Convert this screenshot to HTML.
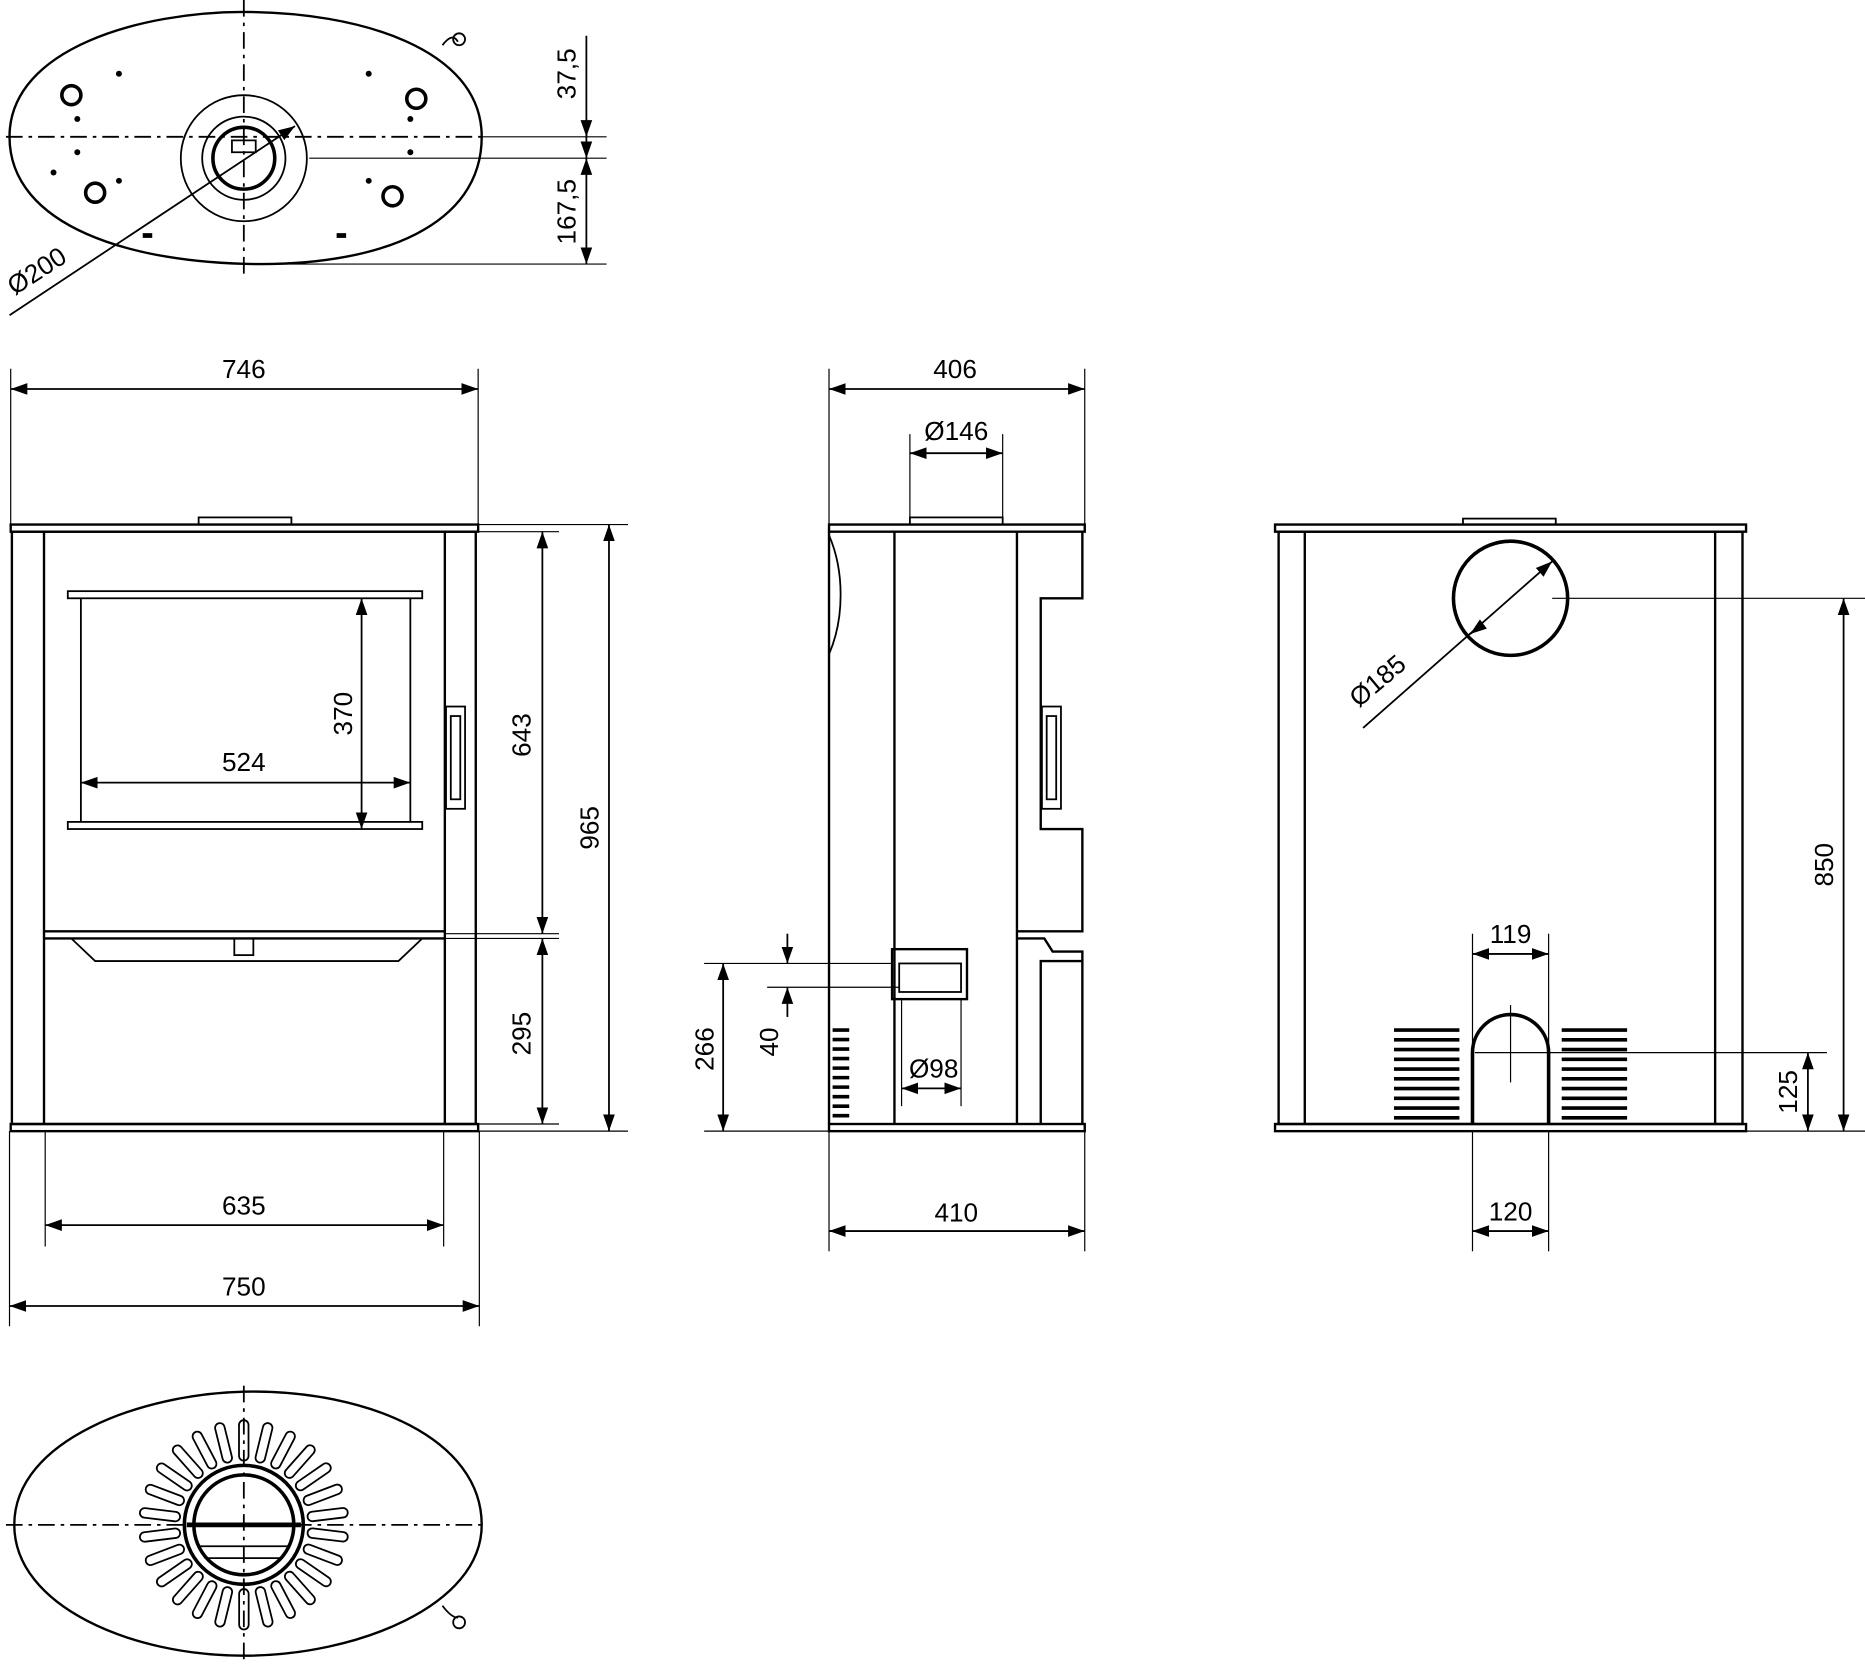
<!DOCTYPE html>
<html><head><meta charset="utf-8"><style>
html,body{margin:0;padding:0;background:#fff}
svg{display:block}
text{font-family:"Liberation Sans",sans-serif;font-size:22px;fill:#000}
</style></head><body>
<svg id="s" width="1865" height="1667" viewBox="0 0 1568 1401.5" xmlns="http://www.w3.org/2000/svg">
<defs>
<marker id="a" viewBox="0 0 10 10" refX="10" refY="5" markerWidth="14" markerHeight="14" markerUnits="userSpaceOnUse" orient="auto-start-reverse"><path d="M0,1.5 L10,5 L0,8.5Z" fill="#000"/></marker>
</defs>
<g fill="none" stroke="#000" stroke-width="1.5">
<!-- TOP VIEW -->
<path d="M8,115 C8,40 120,10 205,10 C300,10 405,40 405,115 C405,190 320,222 220,222 C110,222 8,190 8,115 Z" stroke-width="2"/>
<path d="M372,38 C378,30 382,30 385,35" />
<circle cx="386" cy="33" r="5"/>
<circle cx="205" cy="133" r="53"/>
<circle cx="205" cy="133" r="35"/>
<circle cx="205" cy="133" r="26" stroke-width="3"/>
<path d="M195,118 L215,118 L215,128 L195,128Z"/>
<g stroke-dasharray="14,5,3,5">
<line x1="5" y1="115" x2="405" y2="115"/>
<line x1="205" y1="0" x2="205" y2="230"/>
</g>
<line x1="405" y1="115" x2="510" y2="115" stroke-width="1"/>
<line x1="260" y1="133" x2="510" y2="133" stroke-width="1"/>
<line x1="230" y1="222" x2="510" y2="222" stroke-width="1"/>
<line x1="493" y1="30" x2="493" y2="115" marker-end="url(#a)"/>
<line x1="493" y1="133" x2="493" y2="222" marker-start="url(#a)" marker-end="url(#a)"/>
<line x1="493" y1="100" x2="493" y2="133" marker-end="url(#a)"/>
<line x1="8" y1="265" x2="248" y2="106" marker-end="url(#a)"/>
<g stroke-width="3">
<circle cx="60" cy="80" r="8"/><circle cx="350" cy="83" r="8"/>
<circle cx="80" cy="162" r="8"/><circle cx="330" cy="165" r="8"/>
</g>
<g fill="#000" stroke="none">
<circle cx="100" cy="62" r="2.5"/><circle cx="310" cy="62" r="2.5"/>
<circle cx="65" cy="100" r="2.5"/><circle cx="345" cy="100" r="2.5"/>
<circle cx="65" cy="128" r="2.5"/><circle cx="345" cy="128" r="2.5"/>
<circle cx="45" cy="145" r="2.5"/><circle cx="100" cy="152" r="2.5"/><circle cx="310" cy="152" r="2.5"/>
<rect x="120" y="196" width="8" height="4"/><rect x="283" y="196" width="8" height="4"/>
</g>
<!-- FRONT VIEW -->
<rect x="9" y="441" width="393" height="6" stroke-width="2"/>
<rect x="167" y="435" width="78" height="6"/>
<rect x="10" y="447" width="390" height="498" stroke-width="2"/>
<line x1="37" y1="447" x2="37" y2="945" stroke-width="2"/>
<line x1="374" y1="447" x2="374" y2="945" stroke-width="2"/>
<rect x="57" y="497" width="298" height="6"/>
<rect x="57" y="691" width="298" height="6"/>
<line x1="68" y1="503" x2="68" y2="691"/><line x1="345" y1="503" x2="345" y2="691"/>
<line x1="37" y1="783" x2="374" y2="783" stroke-width="2"/>
<line x1="37" y1="789" x2="374" y2="789" stroke-width="2"/>
<path d="M60,789 L80,808 L335,808 L355,789"/>
<rect x="197" y="789" width="16" height="14"/>
<rect x="375" y="594" width="16" height="86"/>
<rect x="379" y="602" width="8" height="70"/>
<rect x="9" y="945" width="393" height="6" stroke-width="2"/>
<g stroke-width="1">
<line x1="9" y1="310" x2="9" y2="441"/><line x1="402" y1="310" x2="402" y2="441"/>
<line x1="402" y1="441" x2="528" y2="441"/><line x1="402" y1="447" x2="470" y2="447"/>
<line x1="374" y1="785" x2="470" y2="785"/><line x1="374" y1="789" x2="470" y2="789"/>
<line x1="402" y1="945" x2="470" y2="945"/><line x1="402" y1="951" x2="528" y2="951"/>
<line x1="38" y1="951" x2="38" y2="1048"/><line x1="373" y1="951" x2="373" y2="1048"/>
<line x1="8" y1="951" x2="8" y2="1115"/><line x1="403" y1="951" x2="403" y2="1115"/>
</g>
<line x1="9" y1="327" x2="402" y2="327" marker-start="url(#a)" marker-end="url(#a)"/>
<line x1="456" y1="447" x2="456" y2="785" marker-start="url(#a)" marker-end="url(#a)"/>
<line x1="456" y1="789" x2="456" y2="945" marker-start="url(#a)" marker-end="url(#a)"/>
<line x1="512" y1="441" x2="512" y2="951" marker-start="url(#a)" marker-end="url(#a)"/>
<line x1="304" y1="503" x2="304" y2="697" marker-start="url(#a)" marker-end="url(#a)"/>
<line x1="68" y1="658" x2="345" y2="658" marker-start="url(#a)" marker-end="url(#a)"/>
<line x1="38" y1="1030" x2="373" y2="1030" marker-start="url(#a)" marker-end="url(#a)"/>
<line x1="8" y1="1098" x2="403" y2="1098" marker-start="url(#a)" marker-end="url(#a)"/>
<!-- SIDE VIEW -->
<rect x="697" y="441" width="215" height="6" stroke-width="2"/>
<rect x="765" y="435" width="78" height="6"/>
<path d="M697,447 L697,945 M910,447 L910,503 L875,503 L875,697 L910,697 L910,783 L855,783" stroke-width="2"/>
<path d="M855,789 L878,789 L885,800 L910,800 L910,808 L875,808 L875,945 M910,808 L910,945" stroke-width="2"/>
<line x1="752" y1="447" x2="752" y2="945" stroke-width="2"/>
<line x1="855" y1="447" x2="855" y2="945" stroke-width="2"/>
<path d="M697,450 C710,480 710,520 697,550"/>
<rect x="876" y="594" width="16" height="86"/><rect x="880" y="602" width="8" height="70"/>
<rect x="697" y="945" width="215" height="6" stroke-width="2"/>
<rect x="750" y="798" width="63" height="42" stroke-width="2"/>
<rect x="756" y="810" width="52" height="24"/>
<g stroke-width="1">
<line x1="697" y1="310" x2="697" y2="441"/><line x1="912" y1="310" x2="912" y2="441"/>
<line x1="765" y1="365" x2="765" y2="435"/><line x1="843" y1="365" x2="843" y2="435"/>
<line x1="697" y1="951" x2="697" y2="1052"/><line x1="912" y1="951" x2="912" y2="1052"/>
<line x1="592" y1="810" x2="750" y2="810"/><line x1="645" y1="830" x2="756" y2="830"/>
<line x1="592" y1="951" x2="697" y2="951"/>
<line x1="758" y1="840" x2="758" y2="930"/><line x1="808" y1="840" x2="808" y2="930"/>
</g>
<line x1="697" y1="327" x2="912" y2="327" marker-start="url(#a)" marker-end="url(#a)"/>
<line x1="765" y1="381" x2="843" y2="381" marker-start="url(#a)" marker-end="url(#a)"/>
<line x1="697" y1="1035" x2="912" y2="1035" marker-start="url(#a)" marker-end="url(#a)"/>
<line x1="608" y1="810" x2="608" y2="951" marker-start="url(#a)" marker-end="url(#a)"/>
<line x1="662" y1="785" x2="662" y2="810" marker-end="url(#a)"/>
<line x1="662" y1="855" x2="662" y2="830" marker-end="url(#a)"/>
<line x1="758" y1="915" x2="808" y2="915" marker-start="url(#a)" marker-end="url(#a)"/>
<g id="sv" stroke-width="3"></g>
<!-- BACK VIEW -->
<rect x="1072" y="441" width="396" height="6" stroke-width="2"/>
<rect x="1230" y="436" width="78" height="5"/>
<rect x="1075" y="447" width="390" height="498" stroke-width="2"/>
<line x1="1097" y1="447" x2="1097" y2="945" stroke-width="2"/>
<line x1="1442" y1="447" x2="1442" y2="945" stroke-width="2"/>
<rect x="1072" y="945" width="396" height="6" stroke-width="2"/>
<circle cx="1270" cy="503" r="48" stroke-width="3"/>
<line x1="1146" y1="612" x2="1305" y2="472" marker-end="url(#a)"/>
<line x1="1236" y1="533" x2="1240" y2="530" marker-start="url(#a)"/>
<path d="M1238,945 L1238,885 A32,32 0 0 1 1302,885 L1302,945" stroke-width="3"/>
<line x1="1270" y1="845" x2="1270" y2="910" stroke-width="1"/>
<g id="bv" stroke-width="3"></g>
<g stroke-width="1">
<line x1="1238" y1="785" x2="1238" y2="885"/><line x1="1302" y1="785" x2="1302" y2="885"/>
<line x1="1238" y1="951" x2="1238" y2="1052"/><line x1="1302" y1="951" x2="1302" y2="1052"/>
<line x1="1305" y1="503" x2="1568" y2="503"/><line x1="1468" y1="951" x2="1568" y2="951"/>
<line x1="1240" y1="885" x2="1536" y2="885"/>
</g>
<line x1="1238" y1="802" x2="1302" y2="802" marker-start="url(#a)" marker-end="url(#a)"/>
<line x1="1238" y1="1035" x2="1302" y2="1035" marker-start="url(#a)" marker-end="url(#a)"/>
<line x1="1550" y1="503" x2="1550" y2="951" marker-start="url(#a)" marker-end="url(#a)"/>
<line x1="1520" y1="885" x2="1520" y2="951" marker-start="url(#a)" marker-end="url(#a)"/>
<!-- BOTTOM VIEW -->
<path d="M12,1282 C12,1210 120,1172 205,1170 C310,1168 405,1210 405,1282 C405,1350 300,1392 205,1392 C110,1392 12,1350 12,1282Z" stroke-width="2"/>
<path d="M372,1350 C378,1358 382,1360 385,1360"/><circle cx="386" cy="1364" r="5"/>
<g stroke-dasharray="14,5,3,5">
<line x1="5" y1="1282" x2="405" y2="1282"/>
<line x1="205" y1="1165" x2="205" y2="1398"/>
</g>
<circle cx="205" cy="1282" r="50" stroke-width="3"/>
<circle cx="205" cy="1282" r="42" stroke-width="3"/>
<path d="M157,1282 L253,1282" stroke-width="4"/>
<path d="M168,1300 L242,1300 M172,1310 L238,1310" />
<g id="rv" stroke-width="1.5"></g>
</g>
<!-- TEXTS -->
<text transform="translate(484,62) rotate(-90)" text-anchor="middle">37,5</text>
<text transform="translate(484,178) rotate(-90)" text-anchor="middle">167,5</text>
<text transform="translate(35,234) rotate(-33)" text-anchor="middle">Ø200</text>
<text x="205" y="318" text-anchor="middle">746</text>
<text x="205" y="648" text-anchor="middle">524</text>
<text transform="translate(296,600) rotate(-90)" text-anchor="middle">370</text>
<text transform="translate(446,618) rotate(-90)" text-anchor="middle">643</text>
<text transform="translate(446,869) rotate(-90)" text-anchor="middle">295</text>
<text transform="translate(503,696) rotate(-90)" text-anchor="middle">965</text>
<text x="205" y="1021" text-anchor="middle">635</text>
<text x="205" y="1089" text-anchor="middle">750</text>
<text x="803" y="318" text-anchor="middle">406</text>
<text x="804" y="370" text-anchor="middle">Ø146</text>
<text x="804" y="1027" text-anchor="middle">410</text>
<text x="785" y="906" text-anchor="middle">Ø98</text>
<text transform="translate(600,882) rotate(-90)" text-anchor="middle">266</text>
<text transform="translate(654,876) rotate(-90)" text-anchor="middle">40</text>
<text transform="translate(1163,578) rotate(-40)" text-anchor="middle">Ø185</text>
<text x="1270" y="793" text-anchor="middle">119</text>
<text x="1270" y="1026" text-anchor="middle">120</text>
<text transform="translate(1541,727) rotate(-90)" text-anchor="middle">850</text>
<text transform="translate(1511,918) rotate(-90)" text-anchor="middle">125</text>
</svg>
<script>
var NS="http://www.w3.org/2000/svg";
function L(g,x1,y1,x2,y2){var l=document.createElementNS(NS,"line");l.setAttribute("x1",x1);l.setAttribute("y1",y1);l.setAttribute("x2",x2);l.setAttribute("y2",y2);g.appendChild(l);}
var bv=document.getElementById("bv");
for(var i=0;i<10;i++){var y=866+i*8.2;L(bv,1172,y,1227,y);L(bv,1313,y,1368,y);}
var sv=document.getElementById("sv");
for(var i=0;i<10;i++){var y=866+i*8;L(sv,700,y,714,y);}
var rv=document.getElementById("rv");
for(var i=0;i<26;i++){var a=i/26*2*Math.PI+0.12;var c=Math.cos(a),s=Math.sin(a);
var r1=58,r2=84,cx=205,cy=1282;
var p=document.createElementNS(NS,"path");
var w=4,px=-s*w,py=c*w;
var x1=cx+c*r1,y1=cy+s*r1,x2=cx+c*r2,y2=cy+s*r2;
p.setAttribute("d","M"+(x1+px)+","+(y1+py)+" L"+(x2+px)+","+(y2+py)+" A"+w+","+w+" 0 0 0 "+(x2-px)+","+(y2-py)+" L"+(x1-px)+","+(y1-py)+" A"+w+","+w+" 0 0 0 "+(x1+px)+","+(y1+py)+"Z");
rv.appendChild(p);}
</script>
</body></html>
